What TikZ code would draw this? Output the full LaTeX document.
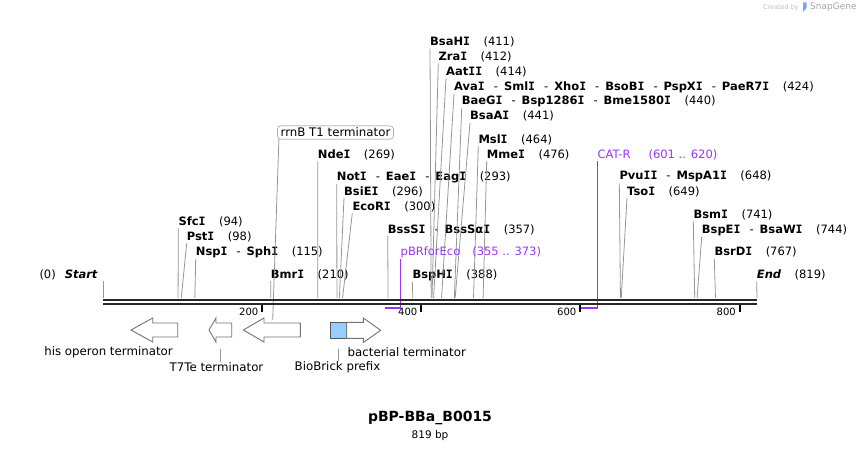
\documentclass[tikz,border=0pt]{standalone}
\usepackage{fontspec}
\setmainfont{DejaVu Sans}
\newfontfamily\serifI{DejaVu Sans Mono}
\usetikzlibrary{positioning}
\definecolor{myviolet}{RGB}{153,51,255}
\definecolor{mygray}{RGB}{150,150,150}
\definecolor{myblue}{RGB}{153,204,255}
\definecolor{mydark}{RGB}{40,40,40}
\newcommand{\vI}{{\serifI I}}
\newcommand{\cutpos}[1]{\hspace{13.5pt}{\mdseries\upshape(#1)}}
\newcommand{\orsep}{\hspace{9pt}{\mdseries-}\hspace{6pt}}
\tikzset{
  enzyme/.style={anchor=west, inner xsep=0, inner ysep=1,
    font=\fontsize{11.5}{13}\selectfont\bfseries},
  primer/.style={anchor=west, inner xsep=0, inner ysep=1, text=myviolet,
    font=\fontsize{11.5}{13}\selectfont},
  featlabel/.style={inner xsep=0, inner ysep=1, font=\fontsize{11.8}{13}\selectfont},
  cutline/.style={draw=mygray, line width=0.8},
  backbone/.style={draw=mydark, line width=2.6},
  tickmark/.style={draw=black, line width=2},
  ticklabel/.style={anchor=east, inner sep=0, font=\fontsize{10}{12}\selectfont},
  feature/.style={draw=gray!90!black, fill=white, line width=0.9, line join=miter},
  primerbar/.style={draw=myviolet, line width=2},
  primerline/.style={draw=myviolet, line width=1}
}
\begin{document}
\begin{tikzpicture}[x=1pt,y=-1pt]
\useasboundingbox (0,0) rectangle (860,449);

% cut sites on the backbone
\foreach \p in {0,94,98,115,210,269,293,296,300,357,388,411,412,414,424,440,441,464,476,648,649,741,744,767,819}
  \coordinate (s\p) at ({103+0.79853*\p},298);

% enzymes above the map
\node[enzyme] (bsahi) at (430,42.3) {BsaH\vI\cutpos{411}};
\node[enzyme] (zrai) at (438.3,57) {Zra\vI\cutpos{412}};
\node[enzyme] (aatii) at (446,72) {Aat\vI\vI\cutpos{414}};
\node[enzyme] (avai) at (454,87) {Ava\vI\orsep Sml\vI\orsep Xho\vI\orsep BsoB\vI\orsep PspX\vI\orsep PaeR7\vI\cutpos{424}};
\node[enzyme] (baegi) at (461.7,101.5) {BaeG\vI\orsep Bsp1286\vI\orsep Bme1580\vI\cutpos{440}};
\node[enzyme] (bsaai) at (470,116.3) {BsaA\vI\cutpos{441}};
\node[enzyme] (msli) at (478.3,140) {Msl\vI\cutpos{464}};
\node[enzyme] (mmei) at (486.7,154.5) {Mme\vI\cutpos{476}};
\node[enzyme] (ndei) at (317.7,155) {Nde\vI\cutpos{269}};
\node[enzyme] (noti) at (336.7,177.3) {Not\vI\orsep Eae\vI\orsep Eag\vI\cutpos{293}};
\node[enzyme] (bsiei) at (344,191.5) {BsiE\vI\cutpos{296}};
\node[enzyme] (ecori) at (352.3,207) {EcoR\vI\cutpos{300}};
\node[enzyme] (bsssi) at (387.7,229.5) {BssS\vI\orsep BssSα\vI\cutpos{357}};
\node[enzyme] (bsphi) at (412.3,275) {BspH\vI\cutpos{388}};
\node[enzyme] (bmri) at (270.7,274.5) {Bmr\vI\cutpos{210}};
\node[enzyme] (sfci) at (178.3,221.7) {Sfc\vI\cutpos{94}};
\node[enzyme] (psti) at (186.7,236.7) {Pst\vI\cutpos{98}};
\node[enzyme] (nspi) at (195.7,252.3) {Nsp\vI\orsep Sph\vI\cutpos{115}};
\node[enzyme] (pvuii) at (619.3,176.7) {Pvu\vI\vI\orsep MspA1\vI\cutpos{648}};
\node[enzyme] (tsoi) at (627,191.7) {Tso\vI\cutpos{649}};
\node[enzyme] (bsmi) at (693.3,215) {Bsm\vI\cutpos{741}};
\node[enzyme] (bspei) at (701.7,230) {BspE\vI\orsep BsaW\vI\cutpos{744}};
\node[enzyme] (bsrdi) at (714.3,252.3) {BsrD\vI\cutpos{767}};
\node[enzyme] (endl) at (756.7,275) {\itshape End\cutpos{819}};
\node[enzyme] (startl) at (39.3,274.5) {\mdseries(0)\hspace{9pt}\bfseries\itshape Start};

\draw[cutline] (bsahi.south west) -- (s411);
\draw[cutline] (zrai.south west) -- (s412);
\draw[cutline] (aatii.south west) -- (s414);
\draw[cutline] (avai.south west) -- (s424);
\draw[cutline] (baegi.south west) -- (s440);
\draw[cutline] (bsaai.south west) -- (s441);
\draw[cutline] (msli.south west) -- (s464);
\draw[cutline] (mmei.south west) -- (s476);
\draw[cutline] (ndei.south west) -- (s269);
\draw[cutline] (noti.south west) -- (s293);
\draw[cutline] (bsiei.south west) -- (s296);
\draw[cutline] (ecori.south west) -- (s300);
\draw[cutline] (bsssi.south west) -- (s357);
\draw[cutline] (bsphi.south west) -- (s388);
\draw[cutline] (bmri.south west) -- (s210);
\draw[cutline] (sfci.south west) -- (s94);
\draw[cutline] (psti.south west) -- (s98);
\draw[cutline] (nspi.south west) -- (s115);
\draw[cutline] (pvuii.south west) -- (s648);
\draw[cutline] (tsoi.south west) -- (s649);
\draw[cutline] (bsmi.south west) -- (s741);
\draw[cutline] (bspei.south west) -- (s744);
\draw[cutline] (bsrdi.south west) -- (s767);
\draw[cutline] (endl.south west) -- (s819);
\draw[cutline] (s0) -- (s0 |- startl.south);

% rrnB T1 terminator label
\node[featlabel, draw=gray, rounded corners=3, inner xsep=3, inner ysep=2] (rrnb) at (335.5,132.5) {rrnB T1 terminator};
\coordinate (rrnbtop) at (272.7,320);
\draw[cutline] ([xshift=1.5]rrnb.south west) -- (rrnbtop);

% primers
\node[primer] (pbr) at (400.5,252.3) {pBRforEco\hspace{12pt}(355 .. 373)};
\coordinate (pbrend) at (400.5,308.5);
\coordinate (pbrstart) at (385,308.5);
\draw[primerline] (pbr.south west) -- (pbrend);
\draw[primerbar] (pbrstart) -- ([xshift=0.5]pbrend);
\node[primer] (catr) at (597.3,155) {CAT-R\hspace{18pt}(601 .. 620)};
\coordinate (catrend) at (597.3,308.5);
\coordinate (catrstart) at (581,308.5);
\draw[primerline] (catr.south west) -- (catrend);
\draw[primerbar] (catrstart) -- ([xshift=0.5]catrend);

% backbone
\draw[backbone] (103,300) -- (757,300);
\draw[backbone] (103,304) -- (757,304);

% ticks
\foreach \t/\x in {200/262,400/421,600/580,800/739.5} {
  \draw[tickmark] (\x,305.5) -- (\x,311.8);
  \node[ticklabel] (tick\t) at (\x-3.5,312.3) {\t};
}

% features below the map
\draw[feature] (177.7,323) -- (152.7,323) -- (152.7,318) -- (131,330) -- (152.7,342) -- (152.7,337) -- (177.7,337) -- cycle;
\draw[feature] (231.7,323) -- (216,323) -- (216,318) -- (209,330) -- (216,342) -- (216,337) -- (231.7,337) -- cycle;
\draw[feature] (300.3,323) -- (264,323) -- (264,318) -- (243.3,330) -- (264,342) -- (264,337) -- (300.3,337) -- cycle;
\draw[feature, fill=myblue, draw=gray!70!black] (330.7,322.3) rectangle (346.7,338.3);
\draw[feature] (346.7,322.3) -- (363.3,322.3) -- (363.3,318) -- (380.7,330.3) -- (363.3,342.5) -- (363.3,338.3) -- (346.7,338.3) -- cycle;

\node[featlabel] (hislab) at (108.5,352) {his operon terminator};
\node[featlabel, anchor=west] (baclab) at (347.5,352) {bacterial terminator};
\node[featlabel] (t7lab) at (216.5,367.5) {T7Te terminator};
\node[featlabel] (bblab) at (337.5,367.5) {BioBrick prefix};
\coordinate (t7pin) at (220.3,348.5);
\coordinate (bbpin) at (338.3,348.5);
\draw[cutline] (t7pin) -- (t7pin |- t7lab.north);
\draw[cutline] (bbpin) -- (bbpin |- bblab.north);

% title
\node[font=\fontsize{14}{16}\selectfont\bfseries] (title) at (430,418) {pBP-BBa\_B0015};
\node[font=\fontsize{10.5}{12}\selectfont, below=-1pt of title] (size) {819 bp};

% watermark
\node[anchor=east, inner sep=0, text=gray!50, font=\fontsize{6.5}{8}\selectfont] (created) at (799,7.5) {Created by};
\fill[myblue!80!blue] (803,2.5) rectangle (806.5,8) (803,8) -- (806.5,8) -- (803,12) -- cycle;
\node[anchor=west, inner sep=0, text=gray!70, font=\fontsize{9}{10}\selectfont] (snap) at (810,7.5) {SnapGene};
\end{tikzpicture}
\end{document}
